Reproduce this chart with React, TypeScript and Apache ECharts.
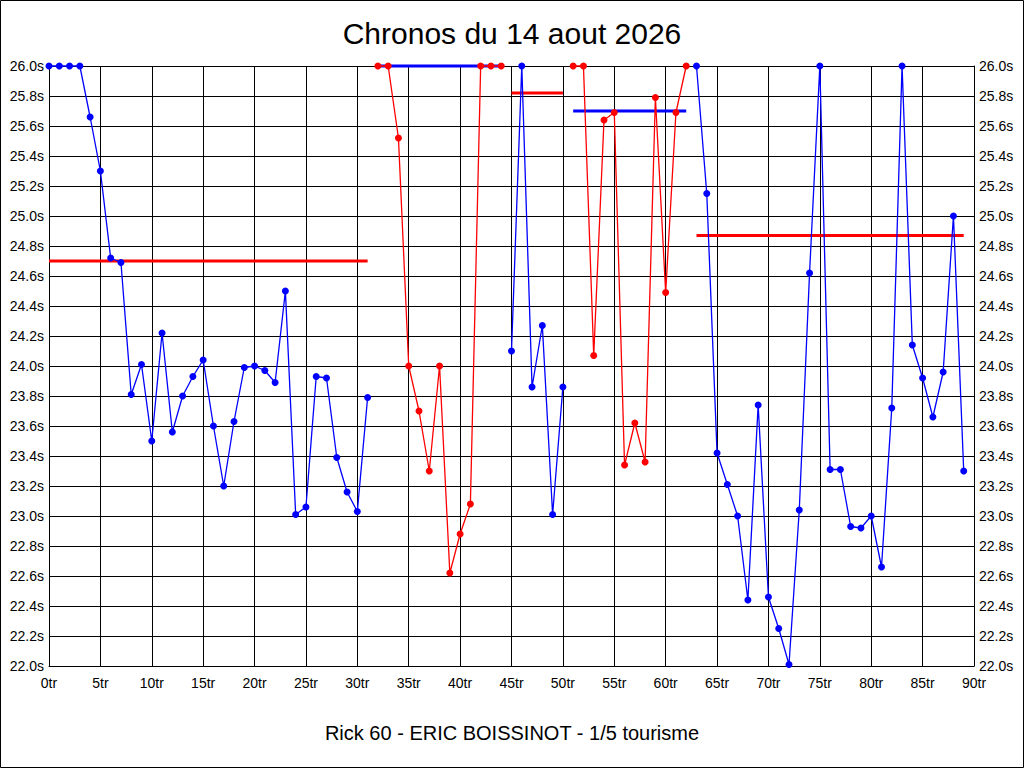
import React, { useEffect, useRef } from "react";
import * as echarts from "echarts";

const titleText = "Chronos du 14 aout 2026";
const subtitleText = "Rick 60 - ERIC BOISSINOT - 1/5 tourisme";

// lap index where each run starts
const runStarts = [0, 32, 45, 51, 63];
// lap times (s) per run
const run1 = [26.0, 26.0, 26.0, 26.0, 25.66, 25.3, 24.72, 24.69, 23.81, 24.01, 23.5, 24.22, 23.56, 23.8, 23.93, 24.04, 23.6, 23.2, 23.63, 23.99, 24.0, 23.97, 23.89, 24.5, 23.01, 23.06, 23.93, 23.92, 23.39, 23.16, 23.03, 23.79];
const run2 = [26.0, 26.0, 25.52, 24.0, 23.7, 23.3, 24.0, 22.62, 22.88, 23.08, 26.0, 26.0, 26.0];
const run3 = [24.1, 26.0, 23.86, 24.27, 23.01, 23.86];
const run4 = [26.0, 26.0, 24.07, 25.64, 25.69, 23.34, 23.62, 23.36, 25.79, 24.49, 25.69, 26.0];
const run5 = [26.0, 25.15, 23.42, 23.21, 23.0, 22.44, 23.74, 22.46, 22.25, 22.01, 23.04, 24.62, 26.0, 23.31, 23.31, 22.93, 22.92, 23.0, 22.66, 23.72, 26.0, 24.14, 23.92, 23.66, 23.96, 25.0, 23.3];
const runs = [run1, run2, run3, run4, run5];

// reference lines per run
const refValues = [24.7, 26.0, 25.82, 25.7, 24.87];
const refStart = [0, 32, 45, 51, 63];
const refEnd = [31, 44, 50, 62, 89];

// axis settings
const xMin = 0;
const xMax = 90;
const xStep = 5;
const yMin = 22;
const yMax = 26;
const yStep = 0.2;

const BLUE = "#0000ff";
const RED = "#ff0000";
const runColors = [BLUE, RED, BLUE, RED, BLUE];
const refColors = [RED, BLUE, RED, BLUE, RED];
const FONT = "'Liberation Sans', Arial, sans-serif";

export default function App() {
  const ref = useRef<HTMLDivElement>(null);

  useEffect(() => {
    document.body.style.margin = "0";
    if (!ref.current) return;
    const chart = echarts.init(ref.current, undefined, { renderer: "svg" });

    const yLabel = (v: number) => v.toFixed(1) + "s";

    const refSeries = refValues.map((v, i) => ({
      type: "line",
      data: [
        [refStart[i], v],
        [refEnd[i], v],
      ],
      symbol: "none",
      lineStyle: { color: refColors[i], width: 3, cap: "butt" },
      clip: false,
      z: 2,
      silent: true,
    }));

    const runSeries = runs.map((r, i) => ({
      type: "line",
      data: r.map((v, j) => [runStarts[i] + j, v]),
      symbol: "circle",
      symbolSize: 7,
      showSymbol: true,
      lineStyle: { color: runColors[i], width: 1.3 },
      itemStyle: { color: runColors[i] },
      clip: false,
      z: 3,
    }));

    const yAxisBase = {
      type: "value",
      min: yMin,
      max: yMax,
      interval: yStep,
      axisLine: { show: true, onZero: false, lineStyle: { color: "#000", width: 1 } },
      axisTick: { show: false },
      axisLabel: {
        formatter: yLabel,
        color: "#000",
        fontFamily: FONT,
        fontSize: 14,
        margin: 5,
      },
    };

    const option = {
      animation: false,
      backgroundColor: "#ffffff",
      title: [
        {
          text: titleText,
          left: "center",
          top: 18,
          padding: 0,
          textStyle: { fontFamily: FONT, fontSize: 30, fontWeight: "normal", color: "#000" },
        },
        {
          text: subtitleText,
          left: "center",
          top: 723,
          padding: 0,
          textStyle: { fontFamily: FONT, fontSize: 20, fontWeight: "normal", color: "#000" },
        },
      ],
      grid: { left: 49, right: 50, top: 66, bottom: 102, containLabel: false },
      xAxis: {
        type: "value",
        min: xMin,
        max: xMax,
        interval: xStep,
        axisLine: { show: true, onZero: false, lineStyle: { color: "#000", width: 1 } },
        axisTick: { show: false },
        splitLine: { show: true, lineStyle: { color: "#000", width: 1 } },
        axisLabel: {
          formatter: (v: number) => v + "tr",
          color: "#000",
          fontFamily: FONT,
          fontSize: 14,
          margin: 10,
        },
      },
      yAxis: [
        {
          ...yAxisBase,
          position: "left",
          splitLine: { show: true, lineStyle: { color: "#000", width: 1 } },
        },
        {
          ...yAxisBase,
          position: "right",
          splitLine: { show: false },
        },
      ],
      graphic: [
        {
          type: "rect",
          shape: { x: 0.5, y: 0.5, width: 1023, height: 767 },
          style: { fill: "none", stroke: "#000", lineWidth: 1 },
          silent: true,
          z: 100,
        },
      ],
      series: [...refSeries, ...runSeries],
    };

    chart.setOption(option as any);
    return () => {
      chart.dispose();
    };
  }, []);

  return <div ref={ref} style={{ width: 1024, height: 768 }} />;
}
